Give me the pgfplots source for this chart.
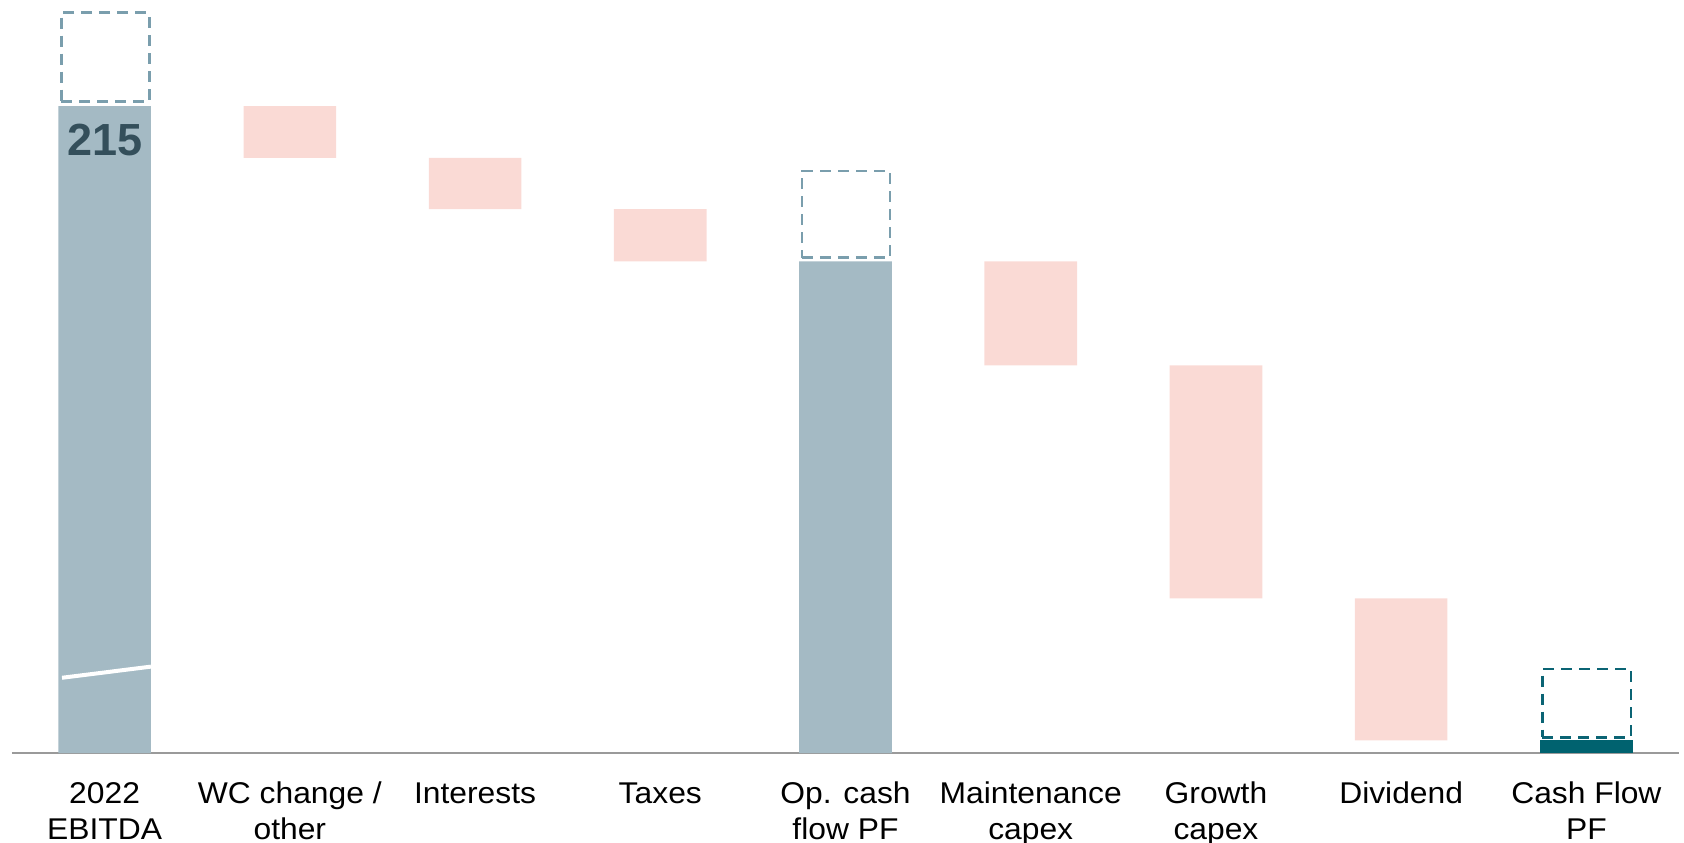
\documentclass[border=0pt]{standalone}
\usepackage{pgfplots}
\pgfplotsset{compat=1.18}
\usepackage{fontspec}
\setmainfont{Liberation Sans}
\newfontfamily\labfont[FakeStretch=1.06]{Liberation Sans}
\definecolor{barblue}{HTML}{A4BAC4}
\definecolor{negpink}{HTML}{FADAD5}
\definecolor{cfteal}{HTML}{00626F}
\definecolor{dashgrey}{HTML}{7A9EAD}
\definecolor{dashteal}{HTML}{0B6474}
\definecolor{labdark}{HTML}{344F5B}
\definecolor{axgray}{HTML}{9A9A9A}

% base (invisible), totals, decreases, final
\pgfplotstableread{
x base total dec final
0 0     215   0    0
1 197.8 0     17.2 0
2 180.7 0     17.1 0
3 163.4 0     17.3 0
4 0     163.4 0    0
5 128.8 0     34.6 0
6 51.4  0     77.4 0
7 4.2   0     47.2 0
8 0     0     0    4.2
}\wf

\pgfplotsset{common/.style={
  at={(6pt,44.5pt)}, anchor=south west,
  scale only axis, width=833.5pt, height=376.15pt,
  xmin=-0.5, xmax=8.5, ymin=0, ymax=250,
}}

\begin{document}
\begin{tikzpicture}
\useasboundingbox (0,0) rectangle (842pt,421pt);
\begin{axis}[
  common,
  axis y line=none,
  axis x line*=bottom,
  x axis line style={-, draw=axgray, line width=0.8pt},
  xtick={0,...,8},
  xticklabels={{\strut 2022\\EBITDA},{\strut WC change /\\other},{\strut Interests},{\strut Taxes},{\strut Op. cash\\flow PF},{\strut Maintenance\\capex},{\strut Growth\\capex},{\strut Dividend},{\strut Cash Flow\\PF}},
  major tick length=0pt,
  xticklabel style={font=\labfont\fontsize{15}{18}\selectfont, align=center, anchor=north, inner sep=0pt, yshift=-12.4pt, text=black},
  ybar stacked, bar width=0.5,
]
\addplot[fill=none, draw=none] table[x=x, y=base] {\wf};
\addplot[fill=barblue, draw=none] table[x=x, y=total] {\wf};
\addplot[fill=negpink, draw=none] table[x=x, y=dec] {\wf};
\addplot[fill=cfteal, draw=none] table[x=x, y=final] {\wf};
\end{axis}
\begin{axis}[common, hide axis, clip=false]
\addplot[dashgrey, line width=1.45pt, dash pattern=on 5.5pt off 3.5pt, mark=none]
  coordinates {(-0.235,216.4) (0.24,216.4) (0.24,246.0) (-0.235,246.0) (-0.235,216.4)};
\addplot[dashgrey, line width=1.45pt, dash pattern=on 5.5pt off 3.5pt, mark=none]
  coordinates {(3.765,164.6) (4.24,164.6) (4.24,193.4) (3.765,193.4) (3.765,164.6)};
\addplot[dashteal, line width=1.45pt, dash pattern=on 5.5pt off 3.5pt, mark=none]
  coordinates {(7.762,5.3) (8.241,5.3) (8.241,27.9) (7.762,27.9) (7.762,5.3)};
\addplot[white, line width=2pt, mark=none] coordinates {(-0.23,25.0) (0.25,28.7)};
\node[anchor=north, inner sep=0pt, text=labdark, font=\fontsize{22.5}{22.5}\selectfont\bfseries] at (axis cs:0,215) [yshift=-8.6pt] {215};
\end{axis}
\end{tikzpicture}
\end{document}
